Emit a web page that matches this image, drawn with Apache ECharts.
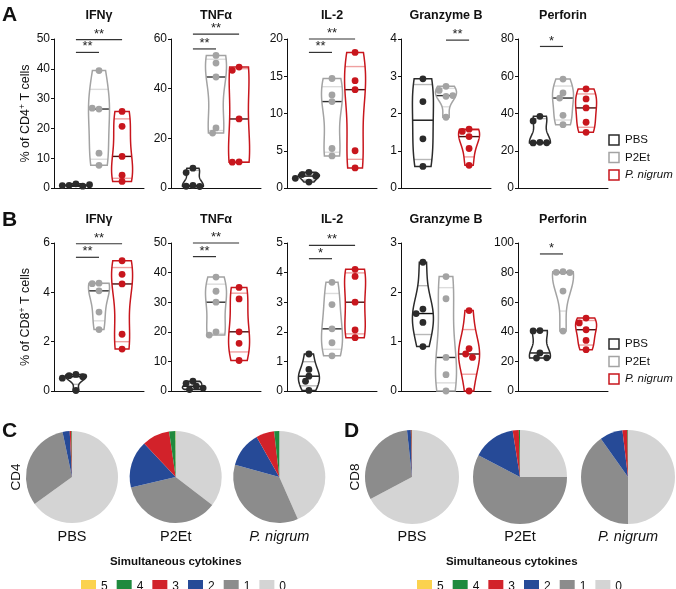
<!DOCTYPE html>
<html lang="en">
<head>
    <meta charset="UTF-8">
    <title>Violin panels</title>
    <script src="https://cdn.jsdelivr.net/npm/echarts@6/dist/echarts.min.js"></script>
    <style>
        html, body { margin: 0; padding: 0; background: #fff; }
        #main { width: 676px; height: 589px; }
    </style>
</head>
<body>
<div id="main"></div>
<script>
    // groups and markers
    var groupNames = ['PBS', 'P2Et', 'P. nigrum'];
    var markers = ['IFNγ', 'TNFα', 'IL-2', 'Granzyme B', 'Perforin'];

    // A: CD4+ T cells (% of cells), one array per group
    var cd4Max = [50, 60, 20, 4, 80];
    var cd4Step = [10, 20, 5, 1, 20];
    var cd4IFNg = [[1.4, 0.9, 0.6, 0.8, 1.1], [39.4, 26.5, 26.8, 11.7, 7.6], [25.7, 20.7, 10.6, 4.3, 2.2]];
    var cd4TNFa = [[8.0, 6.2, 1.0, 0.7, 0.6], [53.4, 50.3, 44.7, 24.2, 22.1], [48.7, 47.4, 27.8, 10.5, 10.4]];
    var cd4IL2 = [[2.1, 1.8, 1.6, 1.3, 0.8], [14.7, 12.5, 11.6, 5.3, 4.3], [18.2, 14.4, 13.2, 5.0, 2.7]];
    var cd4GzmB = [[2.93, 2.32, 1.32, 0.58], [2.73, 2.62, 2.46, 2.48, 1.9], [1.58, 1.52, 1.38, 1.06, 0.61]];
    var cd4Prf = [[38.5, 36, 24.5, 24.2, 24.3], [58.5, 51, 48.3, 39, 34], [53.2, 47.8, 43, 35.3, 29.9]];

    // B: CD8+ T cells
    var cd8Max = [6, 50, 5, 3, 100];
    var cd8Step = [2, 10, 1, 1, 20];
    var cd8IFNg = [[0.67, 0.62, 0.58, 0.52, 0.02], [4.37, 4.35, 4.06, 3.2, 2.49], [5.28, 4.73, 4.34, 2.3, 1.7]];
    var cd8TNFa = [[3.3, 2.6, 1.6, 1.0, 0.5], [38.5, 33.7, 30, 20, 18.9], [35, 31.1, 20, 16.1, 10.3]];
    var cd8IL2 = [[1.25, 0.73, 0.5, 0.33, 0.02], [3.67, 2.92, 2.1, 1.63, 1.19], [4.11, 3.87, 3.0, 2.06, 1.8]];
    var cd8GzmB = [[2.61, 1.66, 1.57, 1.39, 0.9], [2.32, 1.87, 0.68, 0.33, 0.0], [1.63, 0.86, 0.75, 0.68, 0.0]];
    var cd8Prf = [[40.8, 40.6, 25.7, 22.3, 22.4], [80.6, 80.2, 80.0, 67.5, 40.5], [49.3, 46, 41.4, 34.2, 27.9]];

    // significance bars: [from group, to group, y value], with their labels
    var cd4Sig = [[[0, 1, 45.5], [0, 2, 49.8]], [[0, 1, 56], [0, 2, 62]], [[0, 1, 18.2], [0, 2, 20]], [[1, 2, 3.97]], [[0, 1, 76]]];
    var cd4SigText = [['**', '**'], ['**', '**'], ['**', '**'], ['**'], ['*']];
    var cd8Sig = [[[0, 1, 5.42], [0, 2, 5.97]], [[0, 1, 45.4], [0, 2, 50]], [[0, 1, 4.47], [0, 2, 4.92]], [], [[0, 1, 92.6]]];
    var cd8SigText = [['**', '**'], ['**', '**'], ['*', '**'], [], ['*']];

    // C/D: simultaneous cytokines (% of cells), slices in order 0,1,2,3,4,5
    var cytoNames = ['0', '1', '2', '3', '4', '5'];
    var cd4Pie = [[65, 31.6, 2.5, 0.6, 0.2, 0], [35.4, 35.9, 16.7, 9.7, 2.2, 0.1], [43.4, 35.9, 12.5, 6.4, 1.8, 0]];
    var cd8Pie = [[67.2, 31.1, 1.3, 0.3, 0.1, 0], [25, 57.7, 14.8, 2.1, 0.4, 0], [50, 40.2, 7.9, 1.7, 0.2, 0]];

    var groupColors = ['#2b2b2b', '#a3a3a3', '#c8161d'];
    var quartColors = ['#b8b8b8', '#dcdcdc', '#efa0a0'];
    var medianColors = ['#111111', '#2f2f2f', '#4a0d0d'];
    var cytoColors = ['#d4d4d4', '#8c8c8c', '#264a97', '#d2222a', '#1f8a3e', '#fbd24e'];
    var FONT = '"Liberation Sans", Arial, sans-serif';

    var chart = echarts.init(document.getElementById('main'));

    function quantile(s, p) {
        var n = s.length, pos = (n + 1) * p;
        if (pos <= 1) return s[0];
        if (pos >= n) return s[n - 1];
        var lo = Math.floor(pos);
        return s[lo - 1] + (pos - lo) * (s[lo] - s[lo - 1]);
    }

    function density(vals) {
        var n = vals.length;
        var mean = vals.reduce(function (a, b) { return a + b; }, 0) / n;
        var sd = Math.sqrt(vals.reduce(function (a, b) { return a + (b - mean) * (b - mean); }, 0) / (n - 1));
        var s = vals.slice().sort(function (a, b) { return a - b; });
        var iqr = quantile(s, 0.75) - quantile(s, 0.25);
        var spread = Math.min(sd, iqr / 1.34);
        if (!(spread > 0)) spread = sd;
        var h = 0.9 * spread * Math.pow(n, -0.2);
        return function (y) {
            var d = 0;
            for (var i = 0; i < n; i++) {
                var z = (y - vals[i]) / h;
                d += Math.exp(-0.5 * z * z);
            }
            return d;
        };
    }

    function violinRender(sets) {
        return function (params, api) {
            var gi = params.dataIndex;
            var vals = sets[gi];
            var s = vals.slice().sort(function (a, b) { return a - b; });
            var lo = s[0], hi = s[s.length - 1];
            var f = density(vals);
            var W = 10.5, steps = 48, dmax = 0, k;
            for (k = 0; k <= steps; k++) dmax = Math.max(dmax, f(lo + (hi - lo) * k / steps));
            var cx = api.coord([gi, 0])[0];
            function half(y) { return W * f(y) / dmax; }
            var right = [], left = [];
            for (k = 0; k <= steps; k++) {
                var y = hi - (hi - lo) * k / steps;
                var py = api.coord([gi, y])[1];
                var hw = half(y);
                right.push([cx + hw, py]);
                left.unshift([cx - hw, py]);
            }
            var children = [];
            [[0.25, quartColors[gi]], [0.75, quartColors[gi]], [0.5, medianColors[gi]]].forEach(function (q) {
                var v = quantile(s, q[0]);
                var py = api.coord([gi, v])[1];
                var hw = half(v);
                children.push({
                    type: 'line',
                    shape: { x1: cx - hw, y1: py, x2: cx + hw, y2: py },
                    style: { stroke: q[1], lineWidth: 1.4 }
                });
            });
            children.push({
                type: 'polygon',
                shape: { points: right.concat(left) },
                style: { fill: 'none', stroke: groupColors[gi], lineWidth: 1.5 }
            });
            // simple swarm so overlapping dots spread sideways
            var placed = [];
            var r = 3.4, step = 3.4;
            vals.forEach(function (v) {
                var py = api.coord([gi, v])[1];
                var offs = [0, -step, step, -2 * step, 2 * step, -3 * step, 3 * step, -4 * step, 4 * step];
                var px = cx;
                for (var j = 0; j < offs.length; j++) {
                    var ok = placed.every(function (p) {
                        var dx = p[0] - (cx + offs[j]), dy = p[1] - py;
                        return Math.sqrt(dx * dx + dy * dy) >= 2 * r - 0.8;
                    });
                    if (ok) { px = cx + offs[j]; break; }
                }
                placed.push([px, py]);
                children.push({
                    type: 'circle',
                    shape: { cx: px, cy: py, r: r },
                    style: { fill: groupColors[gi] }
                });
            });
            return { type: 'group', children: children };
        };
    }

    function sigRender(labels) {
        return function (params, api) {
            var a = api.coord([api.value(0), api.value(2)]);
            var b = api.coord([api.value(1), api.value(2)]);
            return {
                type: 'group',
                children: [
                    { type: 'line', shape: { x1: a[0], y1: a[1], x2: b[0], y2: b[1] }, style: { stroke: '#333', lineWidth: 1.2 } },
                    {
                        type: 'text', x: (a[0] + b[0]) / 2, y: a[1] + 1,
                        style: { text: labels[params.dataIndex], fill: '#222', font: '13px ' + FONT, textAlign: 'center', textVerticalAlign: 'bottom' }
                    }
                ]
            };
        };
    }

    var lefts = [54, 171, 287, 401, 518];
    var rows = [
        { top: 39, height: 149, max: cd4Max, step: cd4Step, sets: [cd4IFNg, cd4TNFa, cd4IL2, cd4GzmB, cd4Prf], sig: cd4Sig, sigText: cd4SigText, name: '% of CD4{sup|+} T cells' },
        { top: 243, height: 148, max: cd8Max, step: cd8Step, sets: [cd8IFNg, cd8TNFa, cd8IL2, cd8GzmB, cd8Prf], sig: cd8Sig, sigText: cd8SigText, name: '% of CD8{sup|+} T cells' }
    ];

    var grid = [], xAxis = [], yAxis = [], series = [], graphic = [];
    rows.forEach(function (row, ri) {
        for (var p = 0; p < 5; p++) {
            var idx = grid.length;
            grid.push({ left: lefts[p], top: row.top, width: 90, height: row.height });
            xAxis.push({
                gridIndex: idx, type: 'value', min: -0.95, max: 2.95,
                axisLine: { show: true, onZero: false, lineStyle: { color: '#111', width: 1 } },
                axisTick: { show: false }, axisLabel: { show: false }, splitLine: { show: false }
            });
            yAxis.push({
                gridIndex: idx, type: 'value', min: 0, max: row.max[p], interval: row.step[p],
                name: p === 0 ? row.name : '', nameLocation: 'middle', nameGap: 21, nameRotate: 90,
                nameTextStyle: { fontSize: 12.5, color: '#111', fontFamily: FONT, rich: { sup: { fontSize: 8.5, padding: [0, 0, 6, 0], fontFamily: FONT } } },
                axisLine: { show: true, onZero: false, lineStyle: { color: '#111', width: 1 } },
                axisTick: { show: true, length: 3, lineStyle: { color: '#111' } },
                axisLabel: { fontSize: 12, color: '#111', margin: 4, fontFamily: FONT },
                splitLine: { show: false }
            });
            series.push({
                type: 'custom', xAxisIndex: idx, yAxisIndex: idx,
                data: [[0, 0], [1, 0], [2, 0]],
                encode: { x: 0, y: 1 },
                renderItem: violinRender(row.sets[p]),
                silent: true
            });
            if (row.sig[p].length) {
                series.push({
                    type: 'custom', xAxisIndex: idx, yAxisIndex: idx,
                    data: row.sig[p], encode: { x: [0, 1], y: 2 },
                    renderItem: sigRender(row.sigText[p]),
                    silent: true
                });
            }
            graphic.push({
                type: 'text', x: lefts[p] + 45, y: row.top - 23,
                style: { text: markers[p], fill: '#111', font: 'bold 12.5px ' + FONT, textAlign: 'center', textVerticalAlign: 'middle' }
            });
        }
        // group legend on the right
        var ly = [row.top + 101, row.top + 118.5, row.top + 136];
        groupNames.forEach(function (g, gi) {
            graphic.push({
                type: 'rect', shape: { x: 609, y: ly[gi] - 5, width: 10, height: 10 },
                style: { fill: '#fff', stroke: groupColors[gi], lineWidth: 1.5 }
            });
            graphic.push({
                type: 'text', x: 625, y: ly[gi],
                style: { text: g, fill: '#111', font: (gi === 2 ? 'italic ' : '') + '11.5px ' + FONT, textVerticalAlign: 'middle' }
            });
        });
    });

    // pies
    var pieCx = [[72, 175.7, 279.3], [412, 520, 628]];
    var pieSets = [cd4Pie, cd8Pie];
    var pieR = [46, 47];
    var legends = [];
    pieSets.forEach(function (set, si) {
        set.forEach(function (vals, gi) {
            series.push({
                type: 'pie', center: [pieCx[si][gi], 477], radius: pieR[si],
                startAngle: 90, clockwise: true, silent: true,
                label: { show: false }, labelLine: { show: false },
                itemStyle: { borderWidth: 0 },
                data: cytoNames.map(function (n, i) {
                    return { name: n, value: vals[i], itemStyle: { color: cytoColors[i] } };
                })
            });
            graphic.push({
                type: 'text', x: pieCx[si][gi], y: 537,
                style: { text: groupNames[gi], fill: '#111', font: (gi === 2 ? 'italic ' : '') + '14.5px ' + FONT, textAlign: 'center', textVerticalAlign: 'middle' }
            });
        });
        var ox = si * 336;
        graphic.push({
            type: 'text', x: ox + (si ? 19 : 16), y: 477, rotation: Math.PI / 2,
            style: { text: si ? 'CD8' : 'CD4', fill: '#111', font: '13.5px ' + FONT, textAlign: 'center', textVerticalAlign: 'middle' }
        });
        graphic.push({
            type: 'text', x: ox + 175.7, y: 561.5,
            style: { text: 'Simultaneous cytokines', fill: '#111', font: 'bold 11.5px ' + FONT, textAlign: 'center', textVerticalAlign: 'middle' }
        });
        legends.push({
            data: ['5', '4', '3', '2', '1', '0'], left: ox + 76, top: 575,
            itemWidth: 15, itemHeight: 13, itemGap: 9, icon: 'rect', selectedMode: false,
            textStyle: { fontSize: 12, color: '#111', fontFamily: FONT, padding: [0, 0, 0, 0] }
        });
    });

    // panel letters
    [['A', 2, 15], ['B', 2, 220], ['C', 2, 431], ['D', 344, 431]].forEach(function (l) {
        graphic.push({
            type: 'text', x: l[1], y: l[2],
            style: { text: l[0], fill: '#111', font: 'bold 21px ' + FONT, textVerticalAlign: 'middle' }
        });
    });

    chart.setOption({
        animation: false,
        textStyle: { fontFamily: FONT },
        grid: grid,
        xAxis: xAxis,
        yAxis: yAxis,
        legend: legends,
        series: series,
        graphic: graphic
    });
</script>
</body>
</html>
